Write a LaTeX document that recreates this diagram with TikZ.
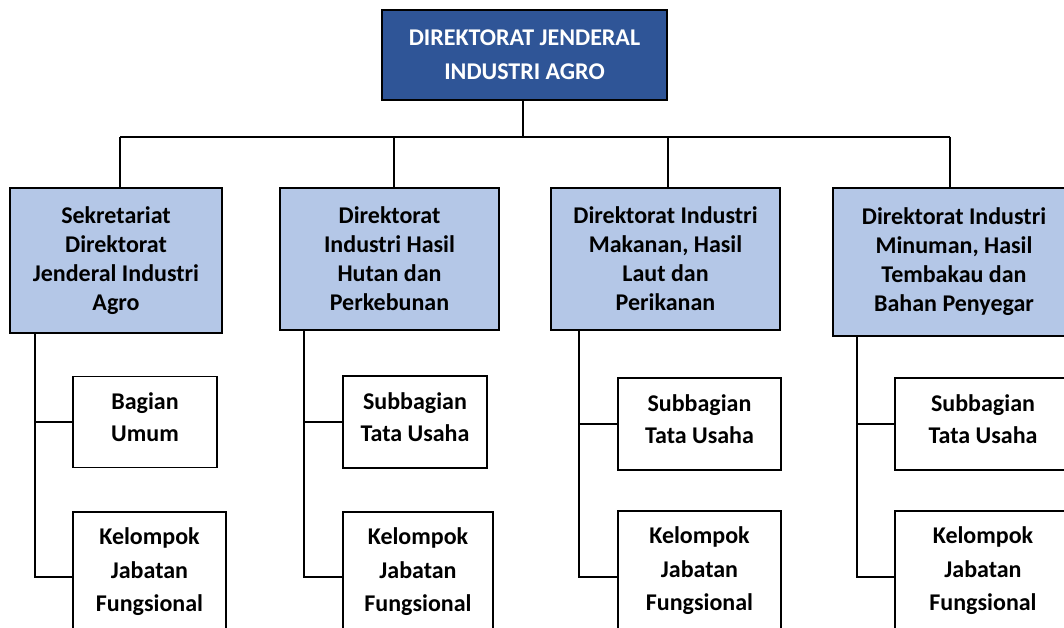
\documentclass[tikz,border=0pt]{standalone}
\usepackage{fontspec}
\setmainfont{Carlito}
\definecolor{topblue}{RGB}{47,85,151}
\definecolor{lightblue}{RGB}{180,199,231}
\begin{document}
\begin{tikzpicture}[x=1pt,y=-1pt,
  line width=1.8pt,
  topbox/.style={draw=black, fill=topblue, text=white, font=\bfseries\fontsize{24}{34}\selectfont, align=center, inner sep=0pt, minimum width=285pt, minimum height=90pt},
  dirbox/.style={draw=black, fill=lightblue, font=\bfseries\fontsize{24}{29}\selectfont, align=center, inner sep=0pt},
  subbox/.style={draw=black, fill=white, font=\bfseries\fontsize{24}{32}\selectfont, align=center, inner sep=0pt},
  kelbox/.style={draw=black, fill=white, font=\bfseries\fontsize{24}{33.5}\selectfont, align=center, inner sep=0pt},
  conn/.style={draw=black, line width=1.8pt}]
\useasboundingbox (0,0) rectangle (1064,628);
\clip (0,0) rectangle (1064,628);
\fill[white] (0,0) rectangle (1064,628);

\node[topbox] (top) at (524.5,55) {DIREKTORAT JENDERAL\\INDUSTRI AGRO};

\node[dirbox, minimum width=212pt, minimum height=145pt] (d1) at (116,260.5) {Sekretariat\\Direktorat\\Jenderal Industri\\Agro};
\node[dirbox, minimum width=219pt, minimum height=142pt] (d2) at (389.5,259) {Direktorat\\Industri Hasil\\Hutan dan\\Perkebunan};
\node[dirbox, minimum width=229pt, minimum height=142pt] (d3) at (665.5,259) {Direktorat Industri\\Makanan, Hasil\\Laut dan\\Perikanan};
\node[dirbox, minimum width=242pt, minimum height=148pt] (d4) at (954,262) {Direktorat Industri\\Minuman, Hasil\\Tembakau dan\\Bahan Penyegar};

\node[subbox, minimum width=144pt, minimum height=91pt] (s1) at (145,422) {Bagian\\Umum\rule[-9pt]{0pt}{1pt}};
\node[subbox, minimum width=144pt, minimum height=92pt] (s2) at (415,422) {Subbagian\\Tata Usaha\rule[-9pt]{0pt}{1pt}};
\node[subbox, minimum width=163pt, minimum height=92pt] (s3) at (699.5,424) {Subbagian\\Tata Usaha\rule[-9pt]{0pt}{1pt}};
\node[subbox, minimum width=176pt, minimum height=92pt] (s4) at (983,424) {Subbagian\\Tata Usaha\rule[-9pt]{0pt}{1pt}};

\node[kelbox, minimum width=153pt, minimum height=120pt] (k1) at (149.5,572) {Kelompok\\Jabatan\\Fungsional};
\node[kelbox, minimum width=150pt, minimum height=120pt] (k2) at (418,572) {Kelompok\\Jabatan\\Fungsional};
\node[kelbox, minimum width=163pt, minimum height=120pt] (k3) at (699.5,571) {Kelompok\\Jabatan\\Fungsional};
\node[kelbox, minimum width=176pt, minimum height=120pt] (k4) at (983,571) {Kelompok\\Jabatan\\Fungsional};

% top connectors
\coordinate (bar) at (523,137);
\coordinate (b1) at (120,137);
\coordinate (b2) at (394,137);
\coordinate (b3) at (668,137);
\coordinate (b4) at (950,137);
\draw[conn] (top.south -| bar) -- (bar);
\draw[conn] (b1) -- (b4);
\draw[conn] (b1) -- (b1 |- d1.north);
\draw[conn] (b2) -- (b2 |- d2.north);
\draw[conn] (b3) -- (b3 |- d3.north);
\draw[conn] (b4) -- (b4 |- d4.north);

% lower connectors
\coordinate (v1) at (35,577);
\coordinate (v2) at (304,577);
\coordinate (v3) at (579,577);
\coordinate (v4) at (857,577);
\draw[conn] (v1 |- d1.south) -- (v1) -- (k1.west |- v1);
\draw[conn] (v1 |- s1.west) -- (s1.west);
\draw[conn] (v2 |- d2.south) -- (v2) -- (k2.west |- v2);
\draw[conn] (v2 |- s2.west) -- (s2.west);
\draw[conn] (v3 |- d3.south) -- (v3) -- (k3.west |- v3);
\draw[conn] (v3 |- s3.west) -- (s3.west);
\draw[conn] (v4 |- d4.south) -- (v4) -- (k4.west |- v4);
\draw[conn] (v4 |- s4.west) -- (s4.west);
\end{tikzpicture}
\end{document}
